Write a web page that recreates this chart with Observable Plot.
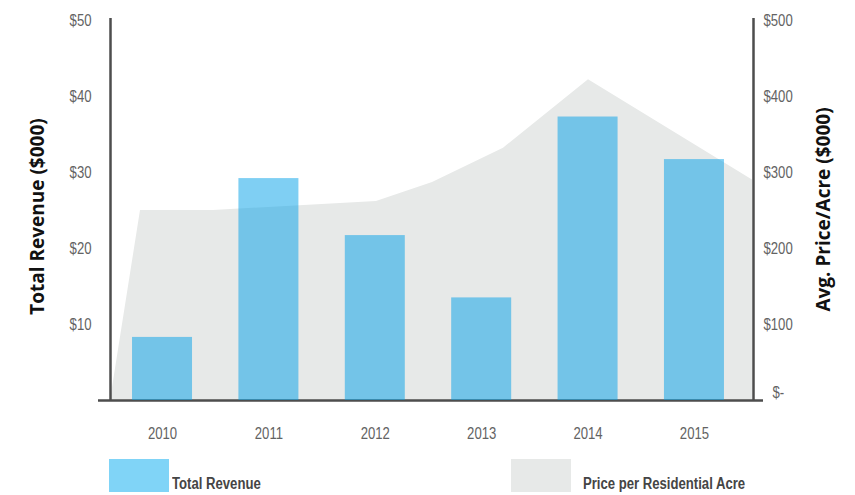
<!DOCTYPE html>
<html><head><meta charset="utf-8">
<script src="https://cdn.jsdelivr.net/npm/d3@7"></script>
<script src="https://cdn.jsdelivr.net/npm/@observablehq/plot@0.6"></script>
<style>
body{margin:0;background:#fff;}
#wrap{position:relative;width:855px;height:495px;overflow:hidden;background:#fff;}
.sw{position:absolute;top:459px;width:60px;height:33px;}
.lt{position:absolute;top:476px;font-family:"Liberation Sans",Arial,sans-serif;font-weight:bold;font-size:16px;color:#454545;line-height:16px;white-space:nowrap;transform:scaleX(0.82);transform-origin:0 50%;}
</style></head><body><div id="wrap"></div>
<script>
const years = [2010, 2011, 2012, 2013, 2014, 2015];
const revenue = [8.3, 29.2, 21.7, 13.5, 37.3, 31.7];
const priceX = [2009.511, 2009.793, 2010.479, 2012.011, 2012.538, 2013.205, 2014.004, 2015.545];
const priceValues = [0, 250, 250, 262, 287, 332, 422, 290];
const leftTicks = [10, 20, 30, 40, 50];
const rightTicks = [100, 200, 300, 400, 500];
const revenueMax = 50, priceMax = 500;
const ratio = priceMax / revenueMax;
const xDomain = [2009.511, 2015.555];
const barHalf = 0.282;
const leftTitle = "Total Revenue ($000)";
const rightTitle = "Avg. Price/Acre ($000)";

const barData = years.map((y, i) => ({year: y, revenue: revenue[i]}));
const priceData = priceX.map((x, i) => ({x, price: priceValues[i]}));

const sans = '"Liberation Sans",Arial,sans-serif';
const tickColor = "#636363";
const axisColor = "#4d4d4d";

const chart = Plot.plot({
  width: 855,
  height: 455,
  marginLeft: 110,
  marginRight: 102,
  marginTop: 20,
  marginBottom: 55,
  style: {fontFamily: sans, fontSize: "16px", background: "#fff"},
  x: {type: "linear", domain: xDomain},
  y: {domain: [0, revenueMax]},
  marks: [
    Plot.areaY(priceData, {x: "x", y: d => d.price / ratio, fill: "#E7E9E8"}),
    Plot.ruleY([0], {stroke: axisColor, strokeWidth: 2.5, insetLeft: -12, insetRight: -10}),
    Plot.ruleX(xDomain, {stroke: axisColor, strokeWidth: 2.5, insetTop: -2}),
    Plot.rectY(barData, {x1: d => d.year - barHalf, x2: d => d.year + barHalf, y: "revenue", fill: "#00A0E8", fillOpacity: 0.5}),
    Plot.axisY(leftTicks, {anchor: "left", tickSize: 0, tickPadding: 19, tickFormat: d => "$" + d, fontSize: 16, fontFamily: sans, color: tickColor, label: null}),
    Plot.axisY(rightTicks.map(v => v / ratio), {anchor: "right", tickSize: 0, tickPadding: 10, tickFormat: d => "$" + Math.round(d * ratio), fontSize: 16, fontFamily: sans, color: tickColor, label: null}),
    Plot.text(["$-"], {text: d => d, frameAnchor: "bottom-right", dx: 19, dy: -3, textAnchor: "start", fontSize: 16, fontFamily: sans, fill: tickColor}),
    Plot.axisX(years, {tickSize: 0, tickPadding: 27, tickFormat: d => String(d), fontSize: 16, fontFamily: sans, color: tickColor, label: null}),
    Plot.text([leftTitle], {text: d => d, frameAnchor: "left", dx: -73, dy: 6, rotate: -90, textAnchor: "middle", lineAnchor: "middle", fontFamily: "Open Sans", fontWeight: "bold", fontSize: 19, fill: "#111"}),
    Plot.text([rightTitle], {text: d => d, frameAnchor: "right", dx: 70, dy: -1, rotate: -90, textAnchor: "middle", lineAnchor: "middle", fontFamily: "Open Sans", fontWeight: "bold", fontSize: 19, fill: "#111"})
  ]
});
const wrap = document.getElementById("wrap");
wrap.appendChild(chart);

// condense tick labels to mimic a narrow typeface
chart.querySelectorAll("text").forEach(t => {
  if (t.textContent === leftTitle || t.textContent === rightTitle) return;
  const len = t.getComputedTextLength();
  if (len > 0) {
    t.setAttribute("textLength", (len * 0.82).toFixed(1));
    t.setAttribute("lengthAdjust", "spacingAndGlyphs");
  }
});

const legendItems = [
  {label: "Total Revenue", color: "#80D4F7", swatchX: 109, textX: 172},
  {label: "Price per Residential Acre", color: "#E7E9E8", swatchX: 511, textX: 583}
];
for (const it of legendItems) {
  const sw = document.createElement("div");
  sw.className = "sw"; sw.style.left = it.swatchX + "px"; sw.style.background = it.color;
  wrap.appendChild(sw);
  const t = document.createElement("div");
  t.className = "lt"; t.style.left = it.textX + "px"; t.textContent = it.label;
  wrap.appendChild(t);
}
</script></body></html>
